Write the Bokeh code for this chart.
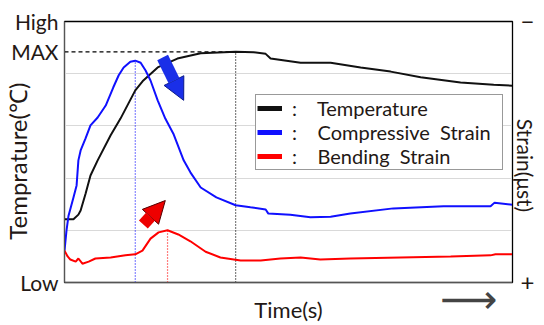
import numpy as np
from bokeh.plotting import figure
from bokeh.models import (Range1d, LinearAxis, FixedTicker, Arrow, NormalHead,
                          Legend, LegendItem)
from bokeh.embed import file_html
from bokeh.resources import INLINE

# ---------------- data (time in % of record, values in relative units 0..5) -----
temp_t = [0, 2.0, 3.1, 3.6, 4.7, 5.8, 7.4, 10.3, 12.5, 15.8, 17.6, 20.8, 25.2,
          30.4, 38.2, 42.2, 44.9, 46.0, 52.7, 59.4, 66.1, 72.8, 79.5, 88.4, 95.8, 100]
temp_v = [1.21, 1.21, 1.30, 1.38, 1.70, 2.05, 2.34, 2.82, 3.14, 3.68, 3.87, 4.12, 4.29,
          4.39, 4.42, 4.41, 4.38, 4.29, 4.21, 4.21, 4.12, 4.04, 3.93, 3.83, 3.79, 3.77]

comp_t = [0, 0.45, 0.9, 2.0, 2.7, 3.1, 3.6, 4.7, 5.8, 7.4, 9.2, 10.9, 12.1, 13.2,
          14.7, 15.8, 17.0, 18.1, 19.2, 20.8, 22.5, 24.3, 26.6, 28.1, 30.4, 33.9,
          38.2, 41.5, 44.9, 45.5, 50.4, 54.9, 59.4, 63.8, 73.4, 84.6, 95.1, 96.0, 100]
comp_v = [0.61, 1.00, 1.28, 1.63, 1.86, 2.34, 2.53, 2.76, 3.01, 3.16, 3.39, 3.74, 3.97,
          4.12, 4.23, 4.25, 4.21, 4.06, 3.87, 3.49, 3.14, 2.85, 2.34, 2.11, 1.82, 1.63,
          1.48, 1.44, 1.40, 1.32, 1.30, 1.25, 1.26, 1.32, 1.42, 1.46, 1.46, 1.53, 1.49]

bend_t = [0, 0.7, 1.3, 2.5, 3.1, 4.0, 5.4, 6.9, 10.3, 13.6, 15.8, 17.4, 19.2, 21.0,
          23.0, 25.4, 28.1, 31.5, 34.8, 39.3, 43.8, 48.2, 52.7, 57.1, 63.8, 75.0,
          86.2, 95.1, 96.2, 100]
bend_v = [0.61, 0.50, 0.44, 0.40, 0.46, 0.36, 0.40, 0.46, 0.48, 0.52, 0.54, 0.61, 0.84,
          0.96, 1.00, 0.92, 0.79, 0.59, 0.48, 0.42, 0.42, 0.46, 0.48, 0.44, 0.46, 0.48,
          0.50, 0.52, 0.54, 0.54]

series_names = ["Temperature", "Compressive\u00a0\u00a0Strain", "Bending\u00a0\u00a0Strain"]
left_labels = {"low": "Low", "max": "MAX", "high": "High"}
right_labels = {"low": "+", "high": "\u2212"}
time_arrow_at = 90.3
time_arrow_text = "\u27f6"

# arrows (annotation positions, data units)
blue_arrow = [21.9, 4.31, 26.6, 3.49]
red_arrow = [17.6, 1.11, 22.5, 1.57]

FONT = "Lato"
TXT = "#231815"
BLACK = "#111111"
BLUE = "#1010ff"
RED = "#ff0000"

p = figure(width=544, height=325, x_range=Range1d(0, 100), y_range=Range1d(0, 5),
           output_backend="svg", toolbar_location=None,
           min_border_left=64, min_border_right=32, min_border_top=21, min_border_bottom=43)
p.background_fill_color = "white"
p.border_fill_color = "white"
p.outline_line_color = "black"
p.outline_line_width = 1.3

p.xgrid.visible = False
p.ygrid.ticker = FixedTicker(ticks=[1, 2, 3, 4])
p.ygrid.grid_line_color = "#d9d9d9"
p.ygrid.grid_line_width = 1

t_arr = np.array(temp_t); v_arr = np.array(temp_v)
MAXV = float(v_arr.max()); t_max = float(t_arr[v_arr.argmax()])
c_t = float(np.array(comp_t)[np.argmax(comp_v)]); c_v = float(np.max(comp_v))
b_t = float(np.array(bend_t)[np.argmax(bend_v)]); b_v = float(np.max(bend_v))

# left axis
ya = p.yaxis[0]
ya.ticker = FixedTicker(ticks=[0, MAXV, 5])
ya.major_label_overrides = {0: left_labels["low"], MAXV: left_labels["max"], 5: left_labels["high"]}
ya.major_tick_line_color = None
ya.major_tick_out = 0
ya.minor_tick_line_color = None
ya.major_label_standoff = 6
ya.major_label_text_font = FONT
ya.major_label_text_font_size = "21px"
ya.major_label_text_color = TXT
ya.axis_line_color = "#555555"
ya.axis_label = "Temprature(\u2103)" + "\u00a0" * 3
ya.axis_label_text_font = FONT
ya.axis_label_text_font_size = "24px"
ya.axis_label_text_font_style = "normal"
ya.axis_label_text_color = TXT
ya.axis_label_standoff = -24

# right axis
ra = LinearAxis(ticker=FixedTicker(ticks=[0, 5]))
ra.major_label_overrides = {0: right_labels["low"], 5: right_labels["high"]}
ra.major_tick_line_color = None
ra.major_tick_out = 0
ra.minor_tick_line_color = None
ra.major_label_standoff = 8
ra.major_label_text_font = FONT
ra.major_label_text_font_size = "24px"
ra.major_label_text_color = TXT
ra.axis_line_color = "black"
ra.axis_label = "\u00a0" * 5 + "Strain(\u03bcst)"
ra.axis_label_text_font = FONT
ra.axis_label_text_font_size = "21px"
ra.axis_label_text_font_style = "normal"
ra.axis_label_text_color = TXT
ra.axis_label_standoff = -24
p.add_layout(ra, "right")

# bottom axis: the time-direction arrow is its only tick label
xa = p.xaxis[0]
xa.ticker = FixedTicker(ticks=[time_arrow_at])
xa.major_label_overrides = {time_arrow_at: time_arrow_text}
xa.major_label_text_font = "DejaVu Sans"
xa.major_label_text_font_size = "40px"
xa.major_label_text_color = "#444444"
xa.major_label_standoff = -7
xa.major_tick_line_color = None
xa.minor_tick_line_color = None
xa.major_tick_out = 0
xa.axis_line_color = "#555555"
xa.axis_label = "Time(s)"
xa.axis_label_text_font = FONT
xa.axis_label_text_font_size = "22px"
xa.axis_label_text_font_style = "normal"
xa.axis_label_text_color = TXT
xa.axis_label_standoff = -29

# dashed MAX line and dotted peak markers
p.segment(x0=[0], y0=[MAXV], x1=[t_max], y1=[MAXV], line_color="black", line_width=1.2, line_dash="4 3")
p.segment(x0=[t_max], y0=[0], x1=[t_max], y1=[MAXV], line_color="black", line_width=1.2, line_dash="1 2")
p.segment(x0=[c_t], y0=[0], x1=[c_t], y1=[c_v], line_color=BLUE, line_width=1.2, line_dash="1 2")
p.segment(x0=[b_t], y0=[0], x1=[b_t], y1=[b_v], line_color=RED, line_width=1.2, line_dash="1 2")

# curves
p.line(temp_t, temp_v, line_color=BLACK, line_width=2)
p.line(comp_t, comp_v, line_color=BLUE, line_width=2)
p.line(bend_t, bend_v, line_color=RED, line_width=2)

# thick arrows
p.add_layout(Arrow(x_start=blue_arrow[0], y_start=blue_arrow[1], x_end=blue_arrow[2], y_end=blue_arrow[3],
                   line_color="#1a2fe8", line_width=12,
                   end=NormalHead(size=22, fill_color="#1a2fe8", line_color="#0b1a8a", line_width=1)))
p.add_layout(Arrow(x_start=red_arrow[0], y_start=red_arrow[1], x_end=red_arrow[2], y_end=red_arrow[3],
                   line_color="#ee0000", line_width=12,
                   end=NormalHead(size=22, fill_color="#ee0000", line_color="#550000", line_width=1)))

# legend proxies (no visible data)
prox = [p.line([0, 0], [np.nan, np.nan], line_color=c, line_width=5) for c in (BLACK, BLUE, RED)]
items = [LegendItem(label=":\u00a0\u00a0\u00a0\u00a0" + n + "\u00a0\u00a0", renderers=[r])
         for n, r in zip(series_names, prox)]
legend = Legend(items=items, location=(191, 112), margin=0, padding=1, spacing=0,
                glyph_width=25, glyph_height=24, label_height=24, label_standoff=10,
                label_text_font=FONT, label_text_font_size="20px", label_text_color=TXT,
                border_line_color="#333333", border_line_width=1.3,
                background_fill_color="white", background_fill_alpha=1)
p.add_layout(legend)

open("out.html", "w").write(file_html(p, INLINE))
